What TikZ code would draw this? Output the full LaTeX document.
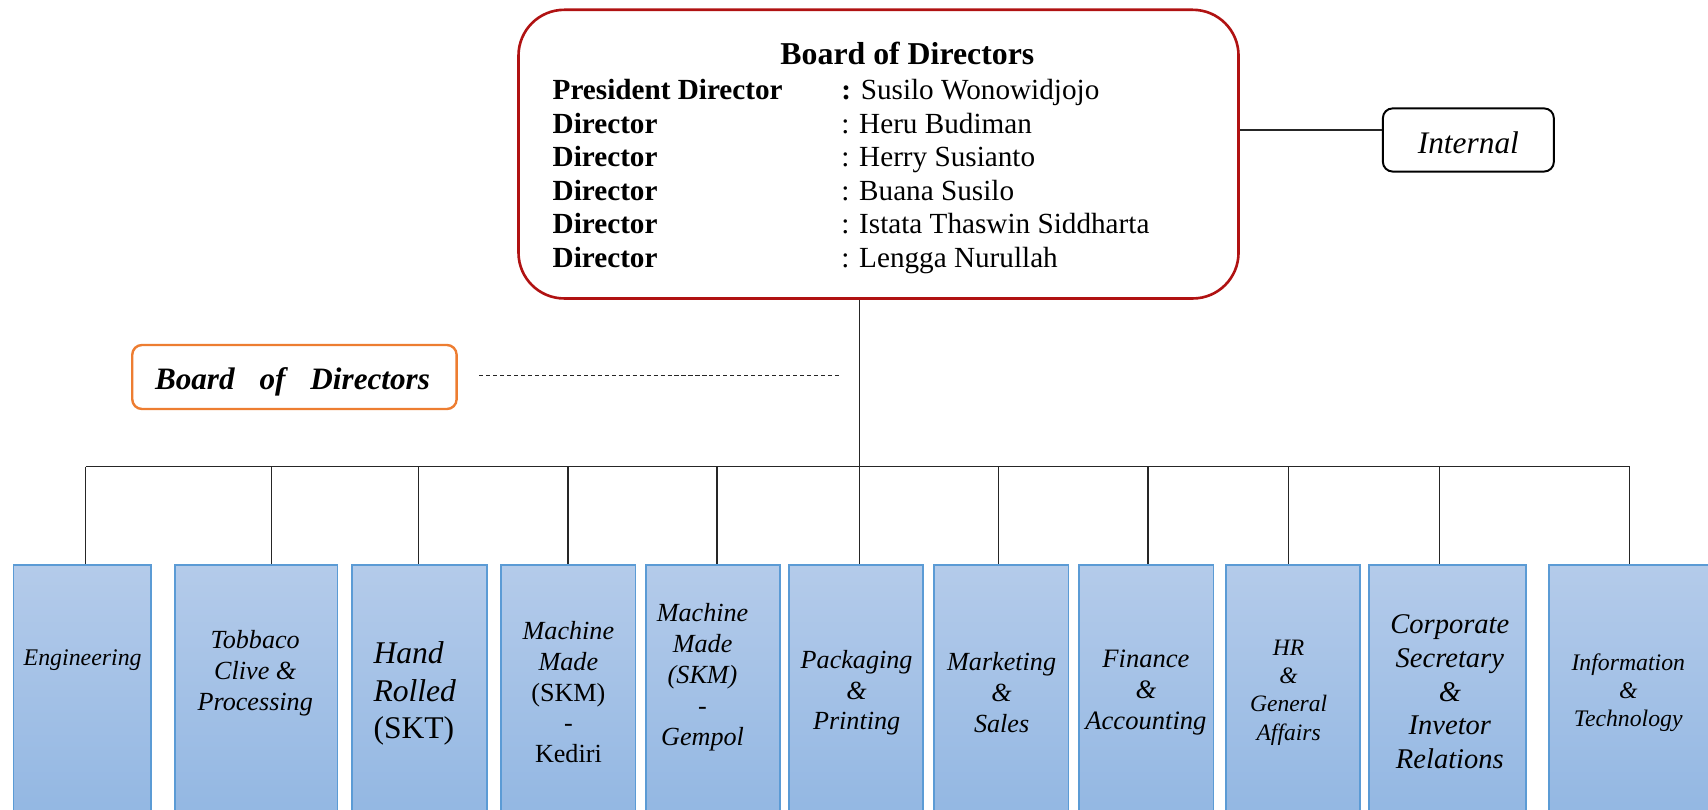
\documentclass[tikz,border=0pt]{standalone}
\usepackage{fontspec}
\setmainfont{Liberation Serif}
\definecolor{bred}{RGB}{176,18,18}
\definecolor{borange}{RGB}{237,125,49}
\definecolor{bblue}{RGB}{91,155,213}
\definecolor{btop}{RGB}{180,203,234}
\definecolor{bbot}{RGB}{145,182,226}
\newcommand{\fsz}[2]{\fontsize{#1}{#2}\selectfont}
\begin{document}
\begin{tikzpicture}[x=0.5pt,y=-0.5pt,
  conn/.style={draw=black!85, line width=0.6pt},
  unitbox/.style={draw=bblue, line width=0.8pt, top color=btop, bottom color=bbot, inner sep=0pt, minimum height=120.5pt},
  ut/.style 2 args={align=center, inner sep=0pt, font=\itshape\fsz{#1}{#2}},
  lbl/.style={anchor=base west, inner sep=0pt, font=\bfseries\fsz{13.4pt}{15.4pt}},
  nm/.style={anchor=base west, inner sep=0pt, font=\fsz{13.4pt}{15.4pt}}
]
\useasboundingbox (0,0) rectangle (1568,743.6);
\clip (0,0) rectangle (1568,743.6);

% main board box
\node[draw=bred, line width=1.2pt, rounded corners=21pt, minimum width=330.5pt, minimum height=132.5pt, inner sep=0pt] (board) at (806.5,141.5) {};
\node[anchor=base, inner sep=0pt, font=\bfseries\fsz{14.6pt}{16pt}] (title) at (833,59.6) {Board of Directors};
\node[lbl] (l1) at (507,91.5) {President Director};
\node[lbl] (l2) at (507,122.3) {Director};
\node[lbl] (l3) at (507,153.1) {Director};
\node[lbl] (l4) at (507,183.9) {Director};
\node[lbl] (l5) at (507,214.7) {Director};
\node[lbl] (l6) at (507,245.5) {Director};
\node[nm] (n1) at (772,91.5) {\textbf{:} Susilo Wonowidjojo};
\node[nm] (n2) at (772,122.3) {: Heru Budiman};
\node[nm] (n3) at (772,153.1) {: Herry Susianto};
\node[nm] (n4) at (772,183.9) {: Buana Susilo};
\node[nm] (n5) at (772,214.7) {: Istata Thaswin Siddharta};
\node[nm] (n6) at (772,245.5) {: Lengga Nurullah};

% internal
\node[draw=black, line width=0.9pt, rounded corners=4.5pt, minimum width=78.5pt, minimum height=29pt, inner sep=0pt] (internal) at (1348,128.5) {};
\node[inner sep=0pt, font=\itshape\fsz{14.4pt}{16pt}] (itext) at (1348,130.8) {Internal};
\path (board.east) ++(0,-22.1) coordinate (ie);
\draw[conn] (ie) -- (ie -| internal.west);

% orange label
\node[draw=borange, line width=1.1pt, rounded corners=4.5pt, minimum width=148.9pt, minimum height=29.4pt, inner sep=0pt] (bod) at (270.3,346.1) {};
\node[inner sep=0pt, anchor=base, font=\bfseries\itshape\fsz{14.3pt}{16pt}] (bodtext) at (268.5,357.5) {Board\hspace{0.8em}of\hspace{0.8em}Directors};
\coordinate (dl) at (440,344.5);
\coordinate (dr) at (772,344.5);
\draw[conn, dash pattern=on 1.9pt off 1.3pt] (dl) -- (dr);

% unit boxes
\node[unitbox, minimum width=63.05pt] (b1) at (75.35,639.5) {};
\node[unitbox, minimum width=74.7pt] (b2) at (235.2,639.5) {};
\node[unitbox, minimum width=61.85pt] (b3) at (385.05,639.5) {};
\node[unitbox, minimum width=61.55pt] (b4) at (521.75,639.5) {};
\node[unitbox, minimum width=61.65pt] (b5) at (654.45,639.5) {};
\node[unitbox, minimum width=61.65pt] (b6) at (785.85,639.5) {};
\node[unitbox, minimum width=61.65pt] (b7) at (919.35,639.5) {};
\node[unitbox, minimum width=61.7pt] (b8) at (1052.2,639.5) {};
\node[unitbox, minimum width=61.6pt] (b9) at (1186.9,639.5) {};
\node[unitbox, minimum width=72.2pt] (b10) at (1328.8,639.5) {};
\node[unitbox, minimum width=88.85pt] (b11) at (1511.15,639.5) {};

% unit texts
\node[ut={10.95pt}{12.6pt}] (t1) at (75.9,606.4) {Engineering};
\node[ut={12pt}{14.15pt}] (t2) at (234.3,617.9) {Tobbaco\\Clive \&\\Processing};
\node[ut={14.5pt}{17.2pt}, align=left, anchor=west] (t3) at (342.5,636.6) {Hand\\Rolled\\{\upshape (SKT)}};
\node[ut={12pt}{14.15pt}] (t4) at (521.8,635.4) {Machine\\Made\\{\upshape (SKM)}\\{\upshape -}\\{\upshape Kediri}};
\node[ut={12pt}{14.15pt}] (t5) at (645,621.7) {Machine\\Made\\(SKM)\\-\\Gempol};
\node[ut={12pt}{14.15pt}] (t6) at (786.4,636) {Packaging\\\&\\Printing};
\node[ut={12pt}{14.15pt}] (t7) at (919.5,636) {Marketing\\\&\\Sales};
\node[ut={12.2pt}{14.15pt}] (t8) at (1052,636) {Finance\\\&\\Accounting};
\node[ut={10.8pt}{12.9pt}] (t9) at (1183,635.9) {HR\\\&\\General\\Affairs};
\node[ut={13.1pt}{15.55pt}] (t10) at (1331,635) {Corporate\\Secretary\\\&\\Invetor\\Relations};
\node[ut={10.9pt}{12.75pt}] (t11) at (1494.8,635.9) {Information\\\&\\Technology};

% bus and drops
\coordinate (d1) at (78.7,428.5);
\coordinate (d2) at (249.4,428.5);
\coordinate (d3) at (384.3,428.5);
\coordinate (d4) at (521.3,428.5);
\coordinate (d5) at (658.2,428.5);
\coordinate (d6) at (789.2,428.5);
\coordinate (d7) at (916.8,428.5);
\coordinate (d8) at (1053.8,428.5);
\coordinate (d9) at (1183.1,428.5);
\coordinate (d10) at (1321.6,428.5);
\coordinate (d11) at (1496.1,428.5);
\draw[conn] (d1) -- (d11);
\draw[conn] (d6 |- board.south) -- (d6);
\foreach \i in {1,...,11}{
  \draw[conn] (d\i) -- (d\i |- b\i.north);
}
\end{tikzpicture}
\end{document}
